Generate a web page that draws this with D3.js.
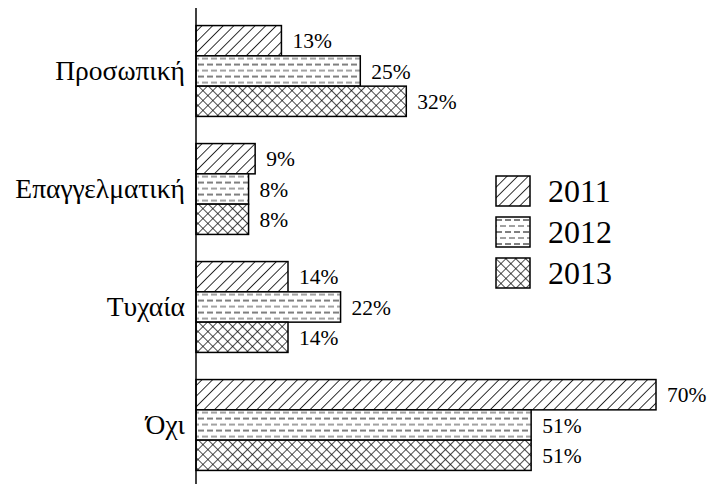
<!DOCTYPE html>
<html lang="el">
<head>
<meta charset="UTF-8">
<title>Chart</title>
<style>
  body { margin: 0; background: #fff; }
  svg text { font-family: 'Liberation Serif', 'Times New Roman', serif !important; fill: #000; }
  .bar { stroke: #000; stroke-width: 1.5px; }
</style>
</head>
<body>
<script src="https://cdnjs.cloudflare.com/ajax/libs/d3/7.8.5/d3.min.js"></script>
<svg></svg>
<script>
  var categories = ['Προσωπική', 'Επαγγελματική', 'Τυχαία', 'Όχι'];
  var years = ['2011', '2012', '2013'];
  var values2011 = [13, 9, 14, 70];
  var values2012 = [25, 8, 22, 51];
  var values2013 = [32, 8, 14, 51];
  var seriesValues = [values2011, values2012, values2013];

  var width = 712, height = 490;

  var svg = d3.select('svg')
    .attr('width', width)
    .attr('height', height);

  // hatch patterns
  var defs = svg.append('defs');

  var p1 = defs.append('pattern')
    .attr('id', 'pat2011')
    .attr('patternUnits', 'userSpaceOnUse')
    .attr('width', 7.5).attr('height', 7.5)
    .attr('patternTransform', 'rotate(45)');
  p1.append('rect').attr('width', 7.5).attr('height', 7.5).attr('fill', '#fff');
  p1.append('line').attr('x1', 0).attr('y1', 0).attr('x2', 0).attr('y2', 7.5)
    .attr('stroke', '#000').attr('stroke-width', 1.6);

  var p2 = defs.append('pattern')
    .attr('id', 'pat2012')
    .attr('patternUnits', 'userSpaceOnUse')
    .attr('width', 9).attr('height', 12);
  p2.append('rect').attr('width', 9).attr('height', 12).attr('fill', '#fff');
  p2.append('line').attr('x1', 0).attr('y1', 3).attr('x2', 6).attr('y2', 3)
    .attr('stroke', '#000').attr('stroke-width', 1);
  p2.append('line').attr('x1', 4).attr('y1', 9).attr('x2', 9).attr('y2', 9)
    .attr('stroke', '#444').attr('stroke-width', 1);
  p2.append('line').attr('x1', 0).attr('y1', 9).attr('x2', 1).attr('y2', 9)
    .attr('stroke', '#444').attr('stroke-width', 1);

  var p3 = defs.append('pattern')
    .attr('id', 'pat2013')
    .attr('patternUnits', 'userSpaceOnUse')
    .attr('width', 7).attr('height', 7)
    .attr('patternTransform', 'rotate(45)');
  p3.append('rect').attr('width', 7).attr('height', 7).attr('fill', '#fff');
  p3.append('line').attr('x1', 0).attr('y1', 0).attr('x2', 0).attr('y2', 7)
    .attr('stroke', '#000').attr('stroke-width', 1.4);
  p3.append('line').attr('x1', 0).attr('y1', 0).attr('x2', 7).attr('y2', 0)
    .attr('stroke', '#000').attr('stroke-width', 1.4);

  var fills = ['url(#pat2011)', 'url(#pat2012)', 'url(#pat2013)'];

  // scales
  var x = d3.scaleLinear().domain([0, 70]).range([196, 656]);
  var y = d3.scaleBand().domain(categories).range([12, 484])
    .paddingInner(0.23).paddingOuter(0.115);
  var ySub = d3.scaleBand().domain(years).range([0, y.bandwidth()]);

  // bars
  var groups = svg.append('g').selectAll('g')
    .data(categories)
    .enter()
    .append('g')
      .attr('transform', function(d) { return 'translate(0,' + y(d) + ')'; });

  groups.selectAll('rect')
    .data(function(d, i) {
      return years.map(function(yr, j) { return {year: yr, j: j, v: seriesValues[j][i]}; });
    })
    .enter()
    .append('rect')
      .attr('class', 'bar')
      .attr('x', x(0))
      .attr('y', function(d) { return ySub(d.year); })
      .attr('width', function(d) { return x(d.v) - x(0); })
      .attr('height', ySub.bandwidth())
      .attr('fill', function(d) { return fills[d.j]; });

  groups.selectAll('text')
    .data(function(d, i) {
      return years.map(function(yr, j) { return {year: yr, v: seriesValues[j][i]}; });
    })
    .enter()
    .append('text')
      .attr('x', function(d) { return x(d.v) + 11; })
      .attr('y', function(d) { return ySub(d.year) + ySub.bandwidth() / 2; })
      .attr('dy', '0.35em')
      .attr('font-size', 21.5)
      .text(function(d) { return d.v + '%'; });

  // axis
  var axis = svg.append('g')
    .attr('transform', 'translate(' + x(0) + ',0)')
    .call(d3.axisLeft(y).tickSize(0).tickPadding(11));
  axis.select('.domain').attr('stroke', '#000').attr('stroke-width', 1.5)
    .attr('d', 'M0,8V484');
  axis.selectAll('text')
    .attr('font-size', 27.5);

  // legend
  var legend = svg.append('g').selectAll('g')
    .data(years)
    .enter()
    .append('g')
      .attr('transform', function(d, i) { return 'translate(496,' + (176 + i * 41) + ')'; });
  legend.append('rect')
    .attr('class', 'bar')
    .attr('width', 34).attr('height', 30)
    .attr('fill', function(d, i) { return fills[i]; });
  legend.append('text')
    .attr('x', 52).attr('y', 15)
    .attr('dy', '0.35em')
    .attr('font-size', 32)
    .text(function(d) { return d; });
</script>
</body>
</html>
